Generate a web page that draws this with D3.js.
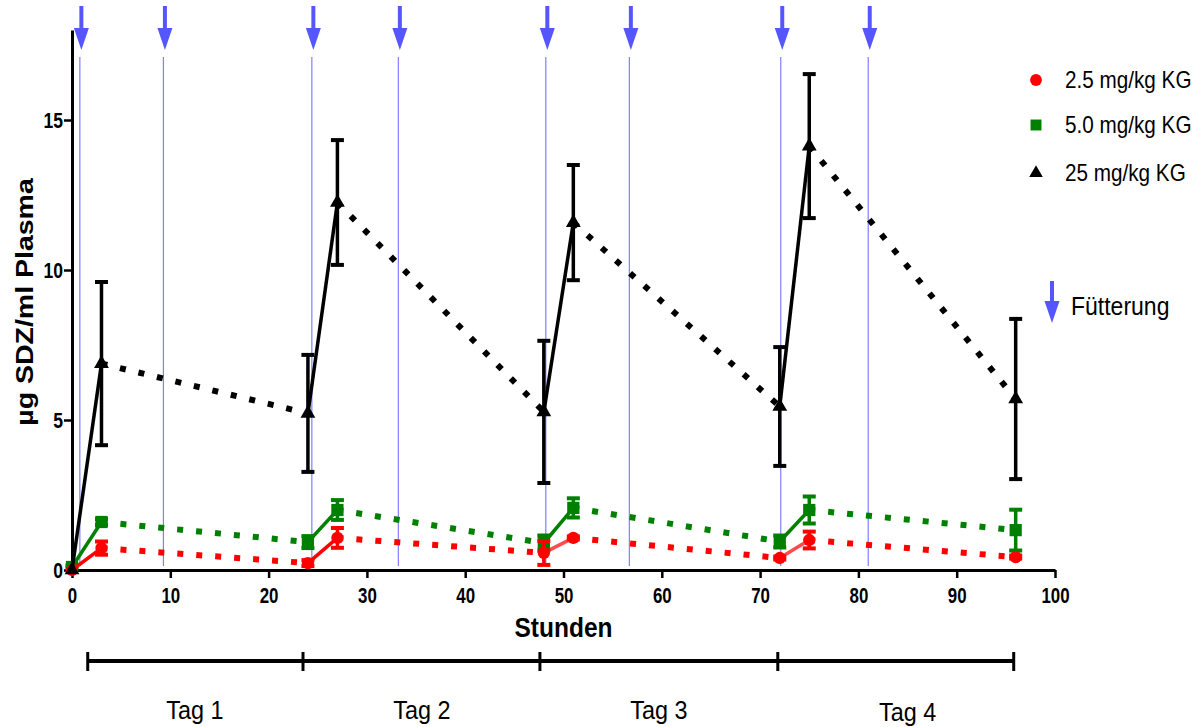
<!DOCTYPE html>
<html lang="de">
	<head>
		<meta charset="UTF-8" />
		<title>SDZ Plasma</title>
	</head>
	<style>
		* {
			padding: 0;
			margin: 0;
			box-sizing: border-box;
		}
		body {
			background: #fff;
			font-family: 'Liberation Sans', Arial, sans-serif;
		}
		.axis path,
		.axis line {
			stroke: #000;
		}
		.feed {
			stroke: #7f7fff;
			stroke-width: 1.2px;
		}
	</style>
	<body>
		<svg id="chart" width="1203" height="727"></svg>
		<script src="https://d3js.org/d3.v7.min.js"></script>
		<script>
			// Stunden nach erster Fuetterung
			const hours = [0, 3, 24, 27, 48, 51, 72, 75, 96];
			// Mittelwerte und Fehler, ug SDZ/ml Plasma
			const mean25 = [0, 0.73, 0.23, 1.07, 0.57, 1.07, 0.4, 1.0, 0.43];
			const err25 = [0, 0.22, 0.1, 0.33, 0.4, 0.05, 0.05, 0.28, 0.05];
			const mean50 = [0.1, 1.6, 0.93, 2.0, 0.9, 2.07, 0.95, 2.0, 1.33];
			const err50 = [0.05, 0.1, 0.2, 0.33, 0.25, 0.32, 0.2, 0.45, 0.68];
			const mean250 = [0, 6.88, 5.22, 12.25, 5.27, 11.58, 5.45, 14.13, 5.7];
			const err250 = [0, 2.72, 1.95, 2.08, 2.37, 1.92, 1.98, 2.4, 2.67];
			const seriesNames = ['2.5 mg/kg KG', '5.0 mg/kg KG', '25 mg/kg KG'];
			const feedHours = [0.8, 9.3, 24.4, 33.2, 48.2, 56.7, 72.1, 81.0];
			const dayBounds = [1.6, 23.5, 47.6, 71.8, 95.8];
			const dayLabels = ['Tag 1', 'Tag 2', 'Tag 3', 'Tag 4'];
			const dayLabelHours = [12.5, 35.6, 59.7, 85.0];
			const xTicks = [0, 10, 20, 30, 40, 50, 60, 70, 80, 90, 100];
			const yTicks = [0, 5, 10, 15];

			let svg = d3.select('#chart'),
				x = d3.scaleLinear().domain([0, 100]).range([72, 1055]),
				y = d3.scaleLinear().domain([0, 18]).range([570, 30]);

			let series = [
				{ name: seriesNames[1], mean: mean50, err: err50, color: '#008000', shape: d3.symbolSquare, size: 150 },
				{ name: seriesNames[0], mean: mean25, err: err25, color: '#ff0000', shape: d3.symbolCircle, size: 120 },
				{ name: seriesNames[2], mean: mean250, err: err250, color: '#000000', shape: d3.symbolTriangle, size: 95 },
			];

			// Fuetterungen: Linien + Pfeile
			svg.selectAll('.feed')
				.data(feedHours)
				.join('line')
				.attr('class', 'feed')
				.attr('x1', (d) => x(d))
				.attr('x2', (d) => x(d))
				.attr('y1', 57)
				.attr('y2', 566);

			function arrow(g, cx, top, len) {
				g.append('line')
					.attr('x1', cx)
					.attr('x2', cx)
					.attr('y1', top)
					.attr('y2', top + len - 20)
					.attr('stroke', '#5656ff')
					.attr('stroke-width', 4);
				g.append('path')
					.attr('d', `M${cx - 7.5},${top + len - 22}L${cx + 7.5},${top + len - 22}L${cx},${top + len}Z`)
					.attr('fill', '#5656ff');
			}
			feedHours.forEach((h) => arrow(svg, x(h) + 1.5, 6, 44));

			// Achsen
			let xAxis = svg.append('g')
				.attr('class', 'axis')
				.attr('transform', 'translate(0,570)')
				.call(d3.axisBottom(x).tickValues(xTicks).tickSize(8).tickSizeOuter(0).tickPadding(9));
			xAxis.select('.domain').attr('stroke-width', 3);
			xAxis.selectAll('.tick line').attr('stroke-width', 2.5);
			xAxis.selectAll('text')
				.attr('font-size', 22.5)
				.attr('font-weight', 'bold')
				.attr('font-family', 'Liberation Sans, Arial, sans-serif')
				.attr('transform', 'scale(0.75,1)');

			let yAxis = svg.append('g')
				.attr('class', 'axis')
				.attr('transform', 'translate(72,0)')
				.call(d3.axisLeft(y).tickValues(yTicks).tickSize(8).tickSizeOuter(0).tickPadding(1));
			yAxis.select('.domain').attr('stroke-width', 3);
			yAxis.selectAll('.tick line').attr('stroke-width', 2.5);
			yAxis.selectAll('text')
				.attr('font-size', 22.5)
				.attr('font-weight', 'bold')
				.attr('font-family', 'Liberation Sans, Arial, sans-serif')
				.attr('x', -9 / 0.78)
				.attr('transform', 'scale(0.78,1)');

			svg.append('text')
				.attr('transform', `translate(${x(50)},637) scale(0.875,1)`)
				.attr('text-anchor', 'middle')
				.attr('font-size', 28)
				.attr('font-weight', 'bold')
				.text('Stunden');

			svg.append('text')
				.attr('transform', 'translate(33,302) rotate(-90) scale(1,0.82)')
				.attr('text-anchor', 'middle')
				.attr('font-size', 28.5)
				.attr('font-weight', 'bold')
				.text('µg SDZ/ml Plasma');

			// Verlauf: durchgezogen nach Fuetterung, gepunktet bis zur naechsten Probe
			let line = d3.line().x((d) => x(d[0])).y((d) => y(d[1]));
			series.forEach((s) => {
				let g = svg.append('g');
				for (let i = 0; i < hours.length - 1; i++) {
					let solid = i % 2 === 0;
					g.append('path')
						.attr('d', line([[hours[i], s.mean[i]], [hours[i + 1], s.mean[i + 1]]]))
						.attr('fill', 'none')
						.attr('stroke', s.color)
						.attr('stroke-opacity', solid && s.color === '#ff0000' && i > 2 ? 0.7 : 1)
						.attr('stroke-width', solid ? 3.5 : 6)
						.attr('stroke-dasharray', solid ? null : '6,13');
				}
				hours.forEach((h, i) => {
					if (s.err[i] <= 0) return;
					let cx = x(h),
						top = y(s.mean[i] + s.err[i]),
						bot = y(Math.max(0, s.mean[i] - s.err[i]));
					g.append('line')
						.attr('x1', cx).attr('x2', cx)
						.attr('y1', top).attr('y2', bot)
						.attr('stroke', s.color)
						.attr('stroke-width', 3.5);
					[top, bot].forEach((cy) => {
						g.append('line')
							.attr('x1', cx - 6.5).attr('x2', cx + 6.5)
							.attr('y1', cy).attr('y2', cy)
							.attr('stroke', s.color)
							.attr('stroke-width', 4);
					});
				});
				g.selectAll('.pt')
					.data(hours)
					.join('path')
					.attr('transform', (h, i) => `translate(${x(h)},${y(s.mean[i])})`)
					.attr('d', d3.symbol().type(s.shape).size(s.size))
					.attr('fill', s.color);
			});

			// Legende
			let legendRows = [
				{ name: seriesNames[0], color: '#ff0000', shape: d3.symbolCircle, size: 110, cy: 80 },
				{ name: seriesNames[1], color: '#008000', shape: d3.symbolSquare, size: 120, cy: 125 },
				{ name: seriesNames[2], color: '#000000', shape: d3.symbolTriangle, size: 80, cy: 173 },
			];
			legendRows.forEach((r) => {
				svg.append('path')
					.attr('transform', `translate(1036,${r.cy})`)
					.attr('d', d3.symbol().type(r.shape).size(r.size))
					.attr('fill', r.color);
				svg.append('text')
					.attr('transform', `translate(1065,${r.cy + 8}) scale(0.9,1)`)
					.attr('font-size', 23)
					.text(r.name);
			});
			arrow(svg, 1052, 281, 42);
			svg.append('text')
				.attr('transform', 'translate(1071,315) scale(0.92,1)')
				.attr('font-size', 25)
				.text('Fütterung');

			// Tage
			svg.append('line')
				.attr('x1', x(dayBounds[0]))
				.attr('x2', x(dayBounds[dayBounds.length - 1]))
				.attr('y1', 661)
				.attr('y2', 661)
				.attr('stroke', '#000')
				.attr('stroke-width', 4);
			svg.selectAll('.daytick')
				.data(dayBounds)
				.join('line')
				.attr('x1', (d) => x(d))
				.attr('x2', (d) => x(d))
				.attr('y1', 652)
				.attr('y2', 671)
				.attr('stroke', '#000')
				.attr('stroke-width', 3);
			svg.selectAll('.daylabel')
				.data(dayLabels)
				.join('text')
				.attr('transform', (d, i) => `translate(${x(dayLabelHours[i])},${i === 3 ? 721 : 719}) scale(0.9,1)`)
				.attr('text-anchor', 'middle')
				.attr('font-size', 26)
				.text((d) => d);
		</script>
	</body>
</html>
